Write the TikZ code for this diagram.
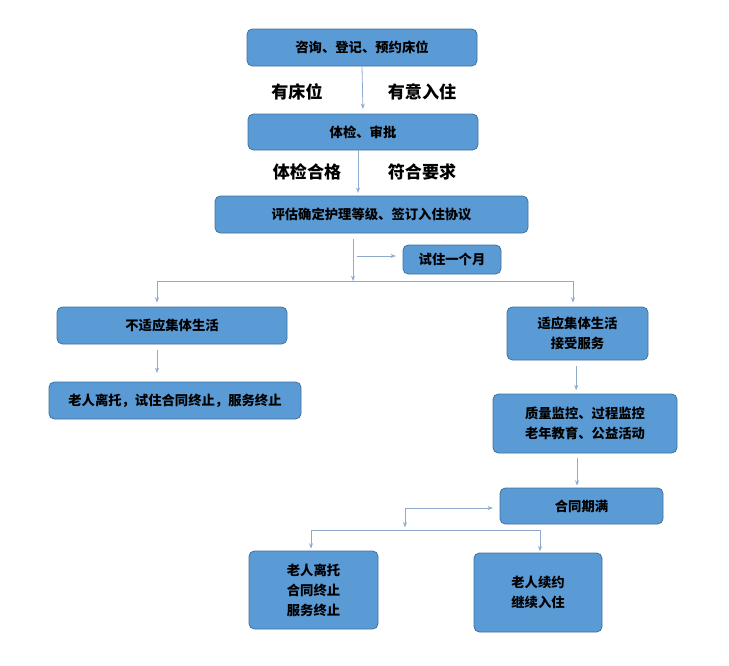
\documentclass[tikz,border=0pt]{standalone}
\usepackage{fontspec}
\newfontfamily\cjk{Noto Sans CJK SC}
\usetikzlibrary{arrows.meta}

\definecolor{boxblue}{RGB}{91,155,213}
\definecolor{boxedge}{RGB}{65,113,156}
\definecolor{linkblue}{RGB}{143,170,205}

\begin{document}
\begin{tikzpicture}[>={Stealth[length=4pt,width=3pt]},x=0.75pt,y=-0.75pt,
  stage/.style={draw=boxedge,fill=boxblue,line width=0.6pt,rounded corners=4pt,align=center,inner sep=0pt,font=\cjk\bfseries\fontsize{10}{15}\selectfont},
  boxsize/.style 2 args={minimum width=#1*0.75pt,minimum height=#2*0.75pt},
  link/.style={->,linkblue,line width=0.6pt},
  plain/.style={linkblue,line width=0.6pt},
  cond/.style={font=\cjk\bfseries\fontsize{12.8}{15}\selectfont}]
  \useasboundingbox (0,0) rectangle (729,665);
  % admission steps
  \node[stage,boxsize={230}{37}] (b1) at (362,47.5) {咨询、登记、预约床位};
  \node[stage,boxsize={230}{36}] (b2) at (363,132) {体检、审批};
  \node[stage,boxsize={313}{37}] (b3) at (371.5,214.5) {评估确定护理等级、签订入住协议};
  \node[stage,boxsize={98}{29}] (b4) at (452,259.5) {试住一个月};
  % conditions
  \node[cond] (l1) at (297,92) {有床位};
  \node[cond] (l2) at (422,92) {有意入住};
  \node[cond] (l3) at (307,172) {体检合格};
  \node[cond] (l4) at (422,172) {符合要求};
  % trial outcome
  \node[stage,boxsize={230}{37}] (b5) at (172,325.5) {不适应集体生活};
  \node[stage,boxsize={141}{53}] (b6) at (577.5,333.5) {适应集体生活\\接受服务};
  \node[stage,boxsize={252}{37}] (b7) at (175,400.5) {老人离托，试住合同终止，服务终止};
  \node[stage,boxsize={184}{59}] (b8) at (585,423.5) {质量监控、过程监控\\老年教育、公益活动};
  \node[stage,boxsize={163}{36}] (b9) at (581.5,506) {合同期满};
  \node[stage,boxsize={129}{78}] (b10) at (313.5,590) {老人离托\\合同终止\\服务终止};
  \node[stage,boxsize={128}{79}] (b11) at (538,592.5) {老人续约\\继续入住};
  % connectors
  \draw[link,shorten >=3.5pt] (b1.south) -- (b2.north);
  \draw[link,shorten >=2pt] ([xshift=-3.75pt]b2.south) -- ([xshift=-3.75pt]b2.south |- b3.north);
  \coordinate (split) at (353,281);
  \coordinate (splitL) at (157,281);
  \coordinate (splitR) at (573,281);
  \coordinate (trial) at (357,256);
  \draw[link,shorten <=4.5pt] (split |- b3.south) -- (split);
  \draw[link,shorten >=5pt] (trial) -- (trial -| b4.west);
  \draw[plain] (splitL) -- (splitR);
  \draw[link,shorten >=3pt] (splitL) -- (splitL |- b5.north);
  \draw[link,shorten >=3pt] (splitR) -- (splitR |- b6.north);
  \draw[link,shorten <=4.5pt,shorten >=6.5pt] (splitL |- b5.south) -- (splitL |- b7.north);
  \draw[link,shorten <=4.5pt,shorten >=2.5pt] ([xshift=-1pt]b6.south) -- ([xshift=-1pt]b6.south |- b8.north);
  \draw[link,shorten <=3.5pt,shorten >=1.5pt] ([xshift=-6pt]b8.south) -- ([xshift=-6pt]b8.south |- b9.north);
  % contract end
  \coordinate (renew) at (405,508);
  \coordinate (endL) at (311,530);
  \coordinate (endR) at (540,530);
  \draw[link,shorten >=5pt] (renew) -- (renew -| b9.west);
  \draw[link,shorten >=2pt] (renew) -- (renew |- endL);
  \draw[plain] (endL) -- (endR);
  \draw[link,shorten >=1.5pt] (endL) -- (endL |- b10.north);
  \draw[link,shorten >=1pt] (endR) -- (endR |- b11.north);
\end{tikzpicture}
\end{document}
